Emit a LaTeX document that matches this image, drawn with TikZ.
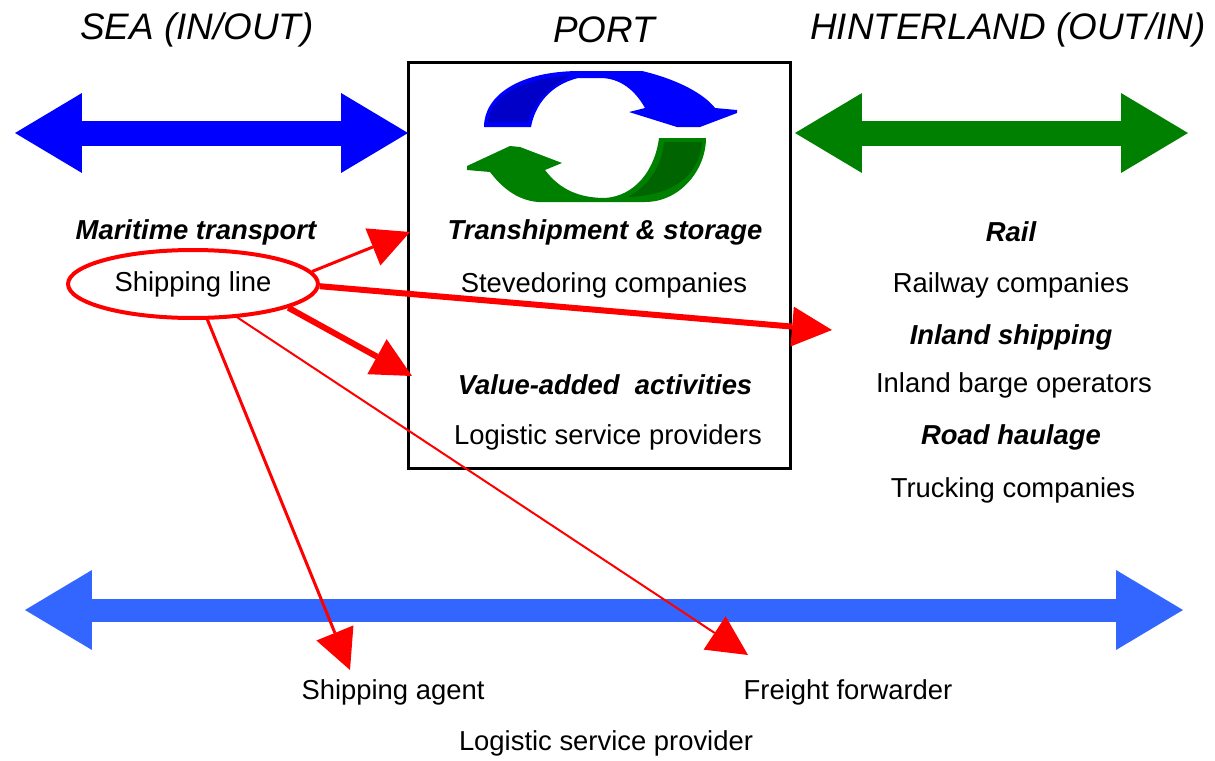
\documentclass[tikz,border=0pt]{standalone}
\usepackage{fontspec}
\setmainfont{Liberation Sans}
\usepackage{tikz}
\usetikzlibrary{arrows.meta,shapes.geometric}

\definecolor{hgreen}{RGB}{0,128,0}
\definecolor{dgreen}{RGB}{0,100,0}
\definecolor{dblue}{RGB}{0,0,200}
\definecolor{lblue}{RGB}{51,102,255}

\tikzset{
  title/.style={font=\fontsize{21}{25}\selectfont\itshape, inner sep=0pt},
  mode/.style={font=\fontsize{15.6}{19}\selectfont\bfseries\itshape, inner sep=0pt},
  firm/.style={font=\fontsize{15.6}{19}\selectfont, inner sep=0pt},
  flow/.style={line width=0.5cm, draw=#1,
    {Triangle[length=1.34cm,width=1.6cm,line width=0pt]}-{Triangle[length=1.34cm,width=1.6cm,line width=0pt]}},
  link/.style={draw=red, line width=#1, -{Triangle[length=0.8cm,width=0.8cm,line width=0pt]}},
}

\begin{document}
\begin{tikzpicture}[x=0.02cm, y=-0.02cm]
\useasboundingbox (0,0) rectangle (1215,761);

% headings
\node[title] (sea) at (197,30) {SEA (IN/OUT)};
\node[title] (port) at (604,30) {PORT};
\node[title] (hinter) at (1008,30) {HINTERLAND (OUT/IN)};

% port box
\draw[line width=0.06cm] (408,62) rectangle (790,468);

% big arrows
\coordinate (seaL) at (15,133);
\coordinate (seaR) at (408,133);
\coordinate (hinL) at (795,133);
\coordinate (hinR) at (1188,133);
\coordinate (allL) at (25,610);
\coordinate (allR) at (1183,610);
\draw[flow=blue] (seaL) -- (seaR);
\draw[flow=hgreen] (hinL) -- (hinR);
\draw[flow=lblue, line width=0.46cm] (allL) -- (allR);

% transhipment cycle
\fill[blue] (484,127) .. controls (484,95) and (520,71) .. (580,71) -- (642,71)
  .. controls (680,80) and (705,95) .. (715,108) -- (737,110) -- (737,113)
  -- (700,127) -- (677,127) -- (629,112) -- (645,108)
  .. controls (635,90) and (620,78) .. (600,78) -- (578,78)
  .. controls (550,85) and (535,105) .. (531,127) -- cycle;
\fill[dblue] (488,122) .. controls (490,98) and (520,78) .. (570,76)
  .. controls (548,88) and (532,105) .. (528,122) -- cycle;
\fill[hgreen] (706,138) .. controls (706,170) and (680,202) .. (645,202) -- (538,202)
  .. controls (515,200) and (500,185) .. (490,172) -- (467,170) -- (467,166)
  -- (510,146) -- (520,147) -- (562,163) -- (545,170)
  .. controls (560,190) and (580,198) .. (605,198)
  .. controls (635,196) and (655,170) .. (659,138) -- cycle;
\fill[dgreen] (702,142) .. controls (700,170) and (680,195) .. (628,197)
  .. controls (650,185) and (662,165) .. (664,142) -- cycle;

% sea side
\node[mode] (marit) at (196,232) {Maritime transport};
\node[firm, draw=red, line width=0.08cm, ellipse, minimum width=5cm, minimum height=1.36cm] (ship) at (193,284) {Shipping line};

% port side
\node[mode] (tranship) at (605,232) {Transhipment \& storage};
\node[firm] (steve) at (604,285) {Stevedoring companies};
\node[mode] (value) at (605,385) {Value-added\ \ activities};
\node[firm] (lsp) at (608,437) {Logistic service providers};

% hinterland side
\node[mode] (rail) at (1011,232) {Rail};
\node[firm] (railco) at (1011,285) {Railway companies};
\node[mode] (inland) at (1011,337) {Inland shipping};
\node[firm] (barge) at (1014,385) {Inland barge operators};
\node[mode] (road) at (1011,437) {Road haulage};
\node[firm] (truck) at (1013,490) {Trucking companies};

% bottom
\node[firm] (agent) at (393,692) {Shipping agent};
\node[firm] (forward) at (848,692) {Freight forwarder};
\node[firm] (lspall) at (606,743) {Logistic service provider};

% red links
\coordinate (toTran) at (410,232);
\coordinate (toInl) at (832,330);
\coordinate (toVal) at (412,376);
\coordinate (toAg) at (350,670);
\coordinate (toFw) at (748,655);
\draw[link=0.06cm] (ship.6) -- (toTran);
\draw[link=0.12cm] (ship.-1) -- (toInl);
\draw[link=0.12cm] (ship.-14) -- (toVal);
\draw[link=0.06cm] (ship.-68) -- (toAg);
\draw[link=0.04cm] (ship.-37) -- (toFw);
\end{tikzpicture}
\end{document}
